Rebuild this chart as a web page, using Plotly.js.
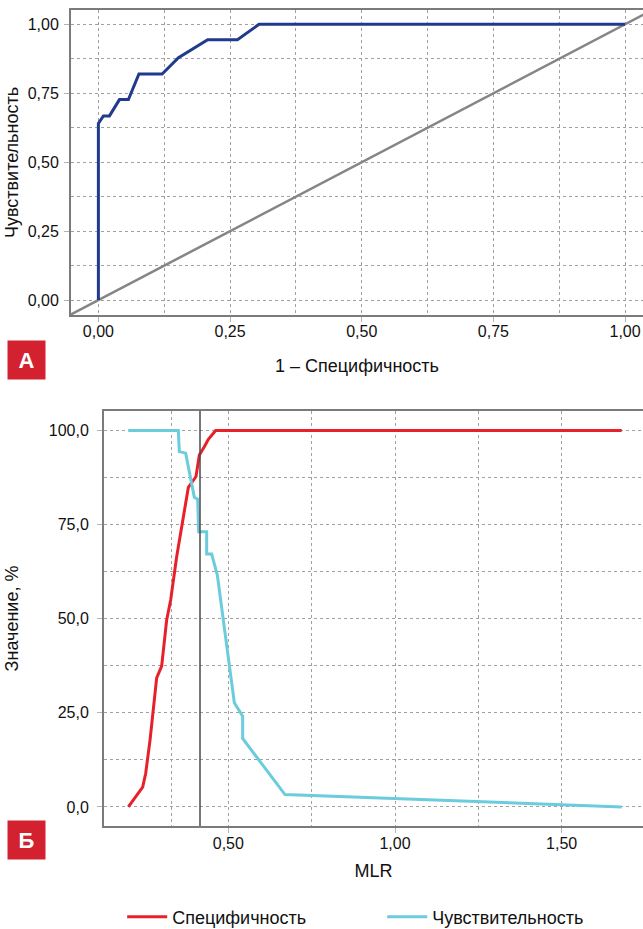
<!DOCTYPE html>
<html>
<head>
<meta charset="utf-8">
<script src="https://cdn.plot.ly/plotly-3.0.1.min.js"></script>
<style>html,body{margin:0;padding:0;background:#fff;}#chart{width:643px;height:929px;}</style>
</head>
<body>
<div id="chart"></div>
<script>
// ---- Panel A: ROC curve ----
const rocFpr = [0, 0, 0.0095, 0.021, 0.040, 0.057, 0.077, 0.121, 0.152, 0.2075, 0.264, 0.305, 1.0];
const rocTpr = [0, 0.641, 0.668, 0.668, 0.727, 0.727, 0.820, 0.820, 0.879, 0.944, 0.944, 1.0, 1.0];
const refLine = [-0.06, 1.06];
const rocTicks = [0, 0.25, 0.5, 0.75, 1.0];

// ---- Panel Б: MLR vs specificity / sensitivity ----
const mlrSpec = [0.200, 0.243, 0.252, 0.265, 0.285, 0.300, 0.315, 0.327, 0.345, 0.380, 0.403, 0.413, 0.428, 0.440, 0.462, 1.68];
const specificity = [0, 5.3, 8.9, 17.7, 34.3, 37.4, 49.7, 55.0, 66.5, 84.9, 87.8, 93.5, 95.7, 97.7, 100, 100];
const mlrSens = [0.200, 0.350, 0.353, 0.372, 0.398, 0.408, 0.411, 0.435, 0.435, 0.450, 0.467, 0.518, 0.543, 0.543, 0.670, 1.0, 1.5, 1.68];
const sensitivity = [100, 100, 94.4, 94.0, 82.3, 81.8, 73.1, 73.1, 67.2, 67.2, 61.6, 27.7, 24.1, 18.2, 3.3, 2.2, 0.6, 0];
const cutoffMLR = 0.415;
const mlrTicks = [0.5, 1.0, 1.5];
const mlrMinorGrid = [0.33, 0.75, 1.25];
const valueTicks = [0, 25, 50, 75, 100];

const FONT = 'Liberation Sans, Arial, sans-serif';
const AXIS_COL = '#7b7b7b';
const GRID_COL = '#a0a0a0';
const TICK_COL = '#b4b4b4';
const titleFont = {family: FONT, size: 18, color: '#111'};

const traces = [
  {x: refLine, y: refLine, xaxis: 'x', yaxis: 'y', mode: 'lines', line: {color: '#858585', width: 2.5}, showlegend: false, hoverinfo: 'skip'},
  {x: rocFpr, y: rocTpr, xaxis: 'x', yaxis: 'y', mode: 'lines', line: {color: '#203a8c', width: 3}, showlegend: false},
  {x: mlrSpec, y: specificity, xaxis: 'x2', yaxis: 'y2', mode: 'lines', name: 'Специфичность', line: {color: '#e8202a', width: 3}},
  {x: mlrSens, y: sensitivity, xaxis: 'x2', yaxis: 'y2', mode: 'lines', name: 'Чувствительность', line: {color: '#6ccbdc', width: 3}}
];

const baseAxis = {
  showline: true, linecolor: AXIS_COL, linewidth: 2,
  showgrid: true, gridcolor: GRID_COL, griddash: 'dot', gridwidth: 1,
  zeroline: false, tickfont: {family: FONT, size: 16, color: '#111'},
  ticks: 'outside', ticklen: 5, tickwidth: 1, tickcolor: TICK_COL,
  automargin: false
};
const minorGrid = {showgrid: true, gridcolor: GRID_COL, griddash: 'dot', gridwidth: 1, ticks: ''};

const layout = {
  width: 643, height: 929,
  margin: {l: 0, r: 0, t: 0, b: 0, autoexpand: false},
  paper_bgcolor: '#fff', plot_bgcolor: '#fff',
  separators: ', ',
  font: {family: FONT, size: 16, color: '#111'},
  xaxis: Object.assign({}, baseAxis, {
    domain: [71/643, 1], anchor: 'y', range: [-0.052, 1.034],
    mirror: true, tickmode: 'array', tickvals: rocTicks, tickformat: '.2f',
    ticklabelstandoff: -4,
    minor: Object.assign({dtick: 0.125, tick0: 0}, minorGrid),
    title: {text: '1 – Специфичность', font: titleFont, standoff: 20}
  }),
  yaxis: Object.assign({}, baseAxis, {
    domain: [(929-315)/929, (929-10)/929], anchor: 'x', range: [-0.054, 1.052],
    tickmode: 'array', tickvals: rocTicks, tickformat: '.2f',
    ticklabelstandoff: 2,
    minor: Object.assign({dtick: 0.125, tick0: 0}, minorGrid),
    title: {text: 'Чувствительность', font: titleFont, standoff: 4}
  }),
  xaxis2: Object.assign({}, baseAxis, {
    domain: [104/643, 1], anchor: 'y2', range: [0.127, 1.744],
    mirror: true, tickmode: 'array', tickvals: mlrTicks, tickformat: '.2f',
    ticklabelstandoff: -3,
    minor: Object.assign({tickmode: 'array', tickvals: mlrMinorGrid}, minorGrid),
    title: {text: 'MLR', font: titleFont, standoff: 13}
  }),
  yaxis2: Object.assign({}, baseAxis, {
    domain: [(929-826)/929, (929-411)/929], anchor: 'x2', range: [-5.05, 105.2],
    tickmode: 'array', tickvals: valueTicks, tickformat: '.1f',
    ticklabelstandoff: 5,
    minor: Object.assign({dtick: 12.5, tick0: 0}, minorGrid),
    title: {text: 'Значение, %', font: titleFont, standoff: 25}
  }),
  shapes: [
    {type: 'line', xref: 'x2', yref: 'y2 domain', x0: cutoffMLR, x1: cutoffMLR, y0: 0, y1: 1, line: {color: '#4a4a4a', width: 1.5}}
  ],
  showlegend: true,
  legend: {
    orientation: 'h', x: 0.19, xanchor: 'left', y: (929-917)/929, yanchor: 'middle',
    font: titleFont, itemwidth: 40, entrywidth: 205, entrywidthmode: 'pixels',
    bgcolor: 'rgba(0,0,0,0)'
  },
  annotations: [
    {text: '<b>А</b>', xref: 'paper', yref: 'paper', x: 26.5/643, y: (929-360)/929, xanchor: 'center', yanchor: 'middle',
     showarrow: false, width: 35, height: 36, bgcolor: '#d42130', font: {family: FONT, size: 22, color: '#fff'}},
    {text: '<b>Б</b>', xref: 'paper', yref: 'paper', x: 26.5/643, y: (929-840)/929, xanchor: 'center', yanchor: 'middle',
     showarrow: false, width: 35, height: 36, bgcolor: '#d42130', font: {family: FONT, size: 22, color: '#fff'}}
  ]
};

Plotly.newPlot('chart', traces, layout, {displayModeBar: false, staticPlot: true});
</script>
</body>
</html>
